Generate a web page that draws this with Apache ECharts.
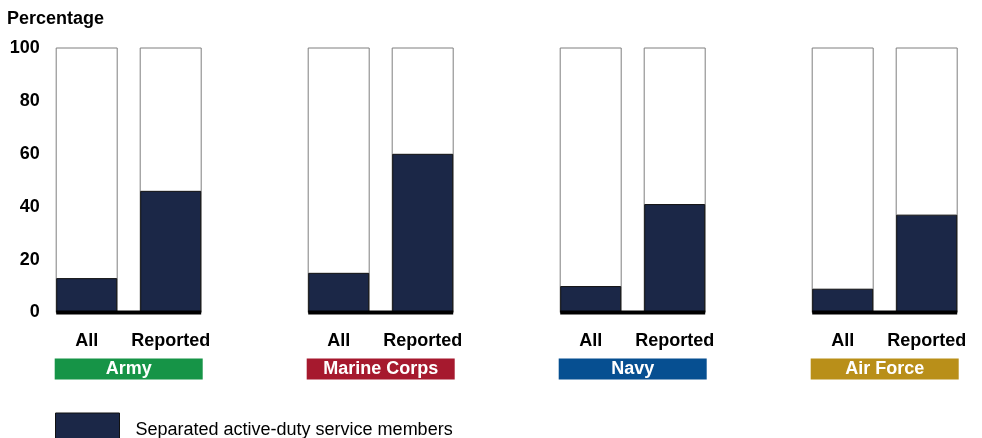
<!DOCTYPE html>
<html><head><meta charset="utf-8">
<script src="https://cdn.jsdelivr.net/npm/echarts@6/dist/echarts.min.js"></script>
<style>html,body{margin:0;padding:0;background:#fff}#c{width:982px;height:438px}</style>
</head><body><div id="c"></div>
<script>
const services = ['Army', 'Marine Corps', 'Navy', 'Air Force'];
const serviceColors = ['#169447', '#a6192e', '#064f91', '#b98f19'];
const groupLabels = ['All', 'Reported'];
const allValues = [13, 15, 10, 9];
const reportedValues = [46, 60, 41, 37];
const yTicks = [0, 20, 40, 60, 80, 100];
const seriesName = 'Separated active-duty service members';
const yTitle = 'Percentage';

const FONT = "'Liberation Sans', Arial, sans-serif";
const DARK = '#1b2747';
const BAR_W = 61;

// category slots: All, Reported, (gap), All, Reported, ...
const slots = [];
const barData = [];
const groupStarts = [];
services.forEach((s, g) => {
  const base = slots.length;
  groupStarts.push([base, 0]);
  slots.push(groupLabels[0], groupLabels[1]);
  barData.push([base, allValues[g]], [base + 1, reportedValues[g]]);
  if (g < services.length - 1) slots.push('');
});
// secondary axis with half-slot ticks for service labels centered under each group
const halfSlots = new Array(slots.length * 2 + 1).fill('');
groupStarts.forEach((gs, g) => { halfSlots[gs[0] * 2 + 2] = services[g]; });
const rich = {};
services.forEach((s, g) => {
  rich['s' + g] = {
    backgroundColor: serviceColors[g], color: '#fff', fontWeight: 'bold', fontSize: 18,
    fontFamily: FONT, width: 148, height: 21, lineHeight: 22, align: 'center'
  };
});

const chart = echarts.init(document.getElementById('c'));
chart.setOption({
  animation: false,
  backgroundColor: '#fff',
  title: {
    text: yTitle, left: 7, top: 10.5, padding: 0,
    textStyle: { fontFamily: FONT, fontSize: 18, fontWeight: 'bold', color: '#000' }
  },
  grid: { left: 44.7, right: 13.3, top: 48, bottom: 125.5 },
  legend: {
    data: [seriesName], left: 55, top: 412.5, padding: 0, icon: 'rect', itemWidth: 64, itemHeight: 34,
    itemStyle: { color: DARK, borderColor: '#111', borderWidth: 1 },
    textStyle: { fontFamily: FONT, fontSize: 18, color: '#000', padding: [0, 0, 0, 11] }
  },
  xAxis: [{
    type: 'category', data: slots, position: 'bottom',
    axisLine: { show: false }, axisTick: { show: false },
    axisLabel: { interval: 0, margin: 19.5, color: '#000', fontFamily: FONT, fontSize: 18, fontWeight: 'bold' }
  }, {
    type: 'category', data: halfSlots, position: 'bottom', boundaryGap: false,
    axisLine: { show: false }, axisTick: { show: false },
    axisLabel: {
      interval: 0, margin: 45.5, rich: rich,
      formatter: (v) => { const i = services.indexOf(v); return i < 0 ? '' : '{s' + i + '|' + v + '}'; }
    }
  }],
  yAxis: {
    type: 'value', min: yTicks[0], max: yTicks[yTicks.length - 1], interval: yTicks[1] - yTicks[0],
    splitLine: { show: false }, axisLine: { show: false }, axisTick: { show: false },
    axisLabel: { margin: 5, padding: [4, 0, 0, 0], color: '#000', fontFamily: FONT, fontSize: 18, fontWeight: 'bold' }
  },
  series: [{
    name: seriesName, type: 'bar', data: barData, barWidth: BAR_W,
    itemStyle: { color: DARK, borderColor: '#111', borderWidth: 1 },
    showBackground: true,
    backgroundStyle: { color: '#fff', borderColor: '#7f7f7f', borderWidth: 1 }
  }, {
    name: 'baseline', type: 'custom', data: groupStarts, z: 5,
    renderItem: (params, api) => {
      const i = api.value(0);
      const a = api.coord([i, 0]);
      const b = api.coord([i + 1, 0]);
      return {
        type: 'line',
        shape: { x1: a[0] - BAR_W / 2, y1: a[1], x2: b[0] + BAR_W / 2, y2: b[1] },
        style: { stroke: '#000', lineWidth: 4 }
      };
    }
  }]
});
</script></body></html>
